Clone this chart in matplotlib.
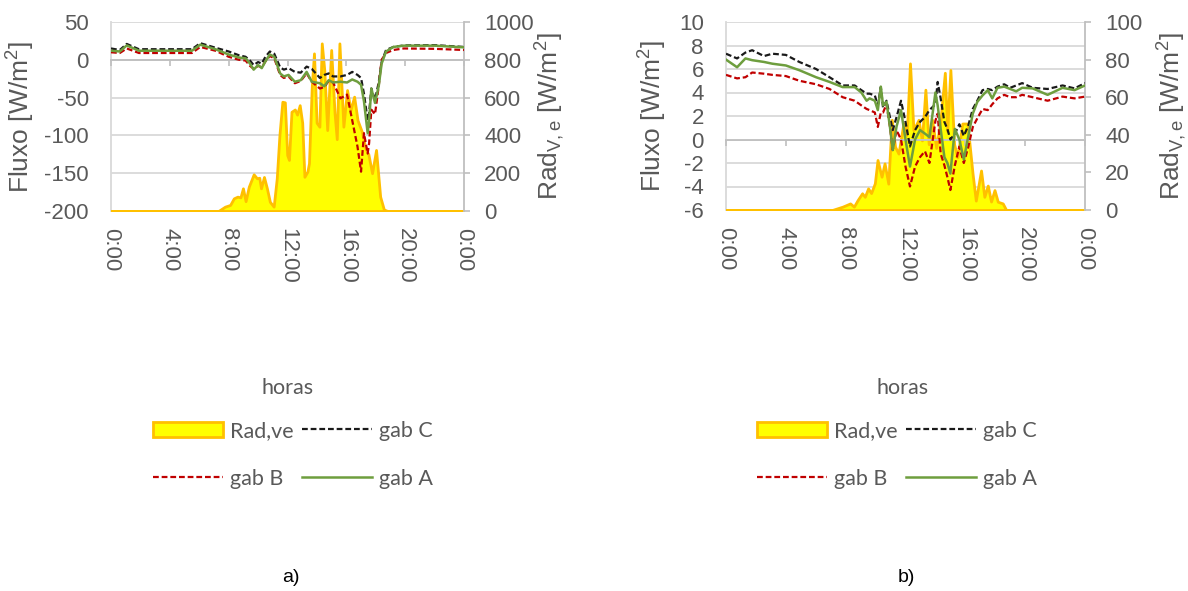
import matplotlib
matplotlib.use("Agg")
import matplotlib.pyplot as plt

plt.rcParams["font.family"] = ["Liberation Sans", "DejaVu Sans"]
plt.rcParams["axes.unicode_minus"] = False
plt.rcParams["mathtext.fontset"] = "custom"
plt.rcParams["mathtext.rm"] = "Liberation Sans"
plt.rcParams["mathtext.it"] = "Liberation Sans:italic"

# ---------------- data ----------------
hour_ticks = [0, 4, 8, 12, 16, 20, 24]
hour_labels = ["0:00", "4:00", "8:00", "12:00", "16:00", "20:00", "0:00"]

# panel a) heat flux [W/m2] of the three cabinets
t_a = [0, 0.6, 1.07, 1.9, 3.0, 4.0, 5.5, 6.07, 7.1, 8.0,
       8.7, 9.15, 9.45, 9.7, 10.0, 10.25, 10.5, 10.8, 11.1, 11.5,
       11.75, 12.07, 12.5, 12.9, 13.3, 13.65, 14.2, 14.5, 14.8, 15.1,
       15.6, 16.05, 16.4, 16.76, 17.0, 17.2, 17.45, 17.55, 17.7, 17.95,
       18.2, 18.4, 18.7, 19.2, 19.9, 22.0, 24.0]
gab_a_a = [12, 11, 19, 12, 12, 12, 12, 20, 14, 7,
           3, 2, -5, -13, -7, -11, -2, 7, 4, -18,
           -22, -20, -29, -27, -16, -29, -31, -35, -27, -30,
           -29, -30, -26, -29, -33, -55, -97, -80, -38, -57,
           -35, -5, 11, 17, 18.7, 18.7, 16.5]
gab_b_a = [10, 9, 15, 9, 9, 9, 9, 17, 12, 4,
           0, -1, -8, -12, -8, -10, -2, 5, 2, -20,
           -24, -22, -31, -28, -18, -29, -38, -36, -28, -30,
           -51, -46, -80, -115, -148, -97, -124, -110, -66, -72,
           -35, 0, 9, 13, 15, 14.5, 13]
gab_c_a = [15, 13, 21, 14, 14, 14, 14, 22, 16, 11,
           6, 4, -1, -7, -3, -5, 4, 11, 8, -10,
           -13, -11, -16, -17, -9, -12, -24, -20, -18, -22,
           -22, -20, -16, -20, -24, -45, -80, -70, -38, -53,
           -30, -3, 13, 17, 19, 19.4, 17]

# panel a) solar radiation on the facade [W/m2]
t_rad_a = [0, 7.3, 7.75, 8.1, 8.35, 8.6, 8.8, 8.97, 9.15, 9.37,
           9.7, 9.92, 10.08, 10.2, 10.4, 10.6, 10.8, 11.06, 11.27, 11.45,
           11.65, 11.82, 11.98, 12.1, 12.27, 12.5, 12.65, 12.83, 13.0, 13.15,
           13.35, 13.46, 13.65, 13.8, 13.98, 14.17, 14.33, 14.5, 14.7, 14.97,
           15.2, 15.35, 15.53, 15.8, 16.05, 16.28, 16.53, 16.76, 17.05, 17.3,
           17.5, 17.75, 18.02, 18.3, 18.55, 18.8, 24]
rad_a = [0, 0, 23, 32, 67, 76, 72, 120, 52, 129,
         194, 173, 176, 120, 180, 120, 49, 23, 173, 400,
         578, 575, 296, 270, 525, 537, 510, 560, 467, 181,
         208, 253, 658, 834, 467, 446, 887, 746, 428, 852,
         518, 380, 887, 446, 640, 534, 605, 481, 420, 330,
         300, 200, 323, 76, 8, 0, 0]

# panel b) heat flux [W/m2] of the three cabinets
t_b = [0, 0.74, 1.3, 1.75, 2.54, 3.1, 4.0, 4.9, 6.02, 6.92,
       7.8, 8.6, 9.05, 9.4, 9.6, 9.95, 10.15, 10.35, 10.5, 10.73,
       10.96, 11.15, 11.4, 11.7, 12.0, 12.3, 12.64, 12.97, 13.3, 13.6,
       14.0, 14.15, 14.35, 14.6, 14.8, 15.0, 15.3, 15.6, 15.9, 16.2,
       16.5, 16.8, 17.15, 17.5, 17.8, 18.15, 18.6, 19.0, 19.4, 19.8,
       20.5, 21.5, 22.5, 23.3, 24.0]
gab_a_b = [6.8, 6.15, 6.9, 6.75, 6.6, 6.45, 6.3, 5.9, 5.3, 4.9,
           4.46, 4.46, 4.0, 3.3, 3.5, 3.3, 2.5, 4.5, 2.9, 3.2,
           1.07, -0.9, 1.1, 2.5, 0.0, -2.3, 0.0, 0.8, 0.5, 0.2,
           4.0, 2.9, 0.9, -1.5, -2.0, -2.9, 0.9, 0.0, -1.7, 0.3,
           2.2, 3.2, 3.75, 4.2, 3.5, 4.4, 4.5, 4.3, 4.1, 4.4,
           4.35, 3.8, 4.4, 4.2, 4.6]
gab_b_b = [5.5, 5.2, 5.3, 5.7, 5.6, 5.5, 5.4, 5.0, 4.7, 4.3,
           3.6, 3.3, 2.9, 2.6, 2.5, 2.3, 1.07, 2.3, 2.3, 3.0,
           1.07, -0.9, 0.8, 0.0, -2.3, -4.0, -2.3, -1.5, -1.0, -2.0,
           1.6, 2.2, -1.2, -2.2, -3.2, -4.3, -2.2, -0.6, -2.0, -0.6,
           1.07, 1.8, 2.6, 2.5, 3.0, 3.5, 3.8, 3.6, 3.6, 3.8,
           3.6, 3.3, 3.65, 3.5, 3.65]
gab_c_b = [7.3, 6.9, 7.4, 7.6, 7.1, 7.3, 7.2, 6.6, 6.0, 5.3,
           4.6, 4.6, 4.2, 3.9, 3.9, 3.75, 2.9, 4.46, 2.7, 3.3,
           1.9, 0.8, 1.9, 3.3, 1.5, -0.6, 0.8, 1.5, 1.9, 2.5,
           3.0, 4.9, 3.5, 1.5, 0.9, 0.0, 0.5, 1.3, 0.3, 1.2,
           2.6, 3.3, 4.2, 4.3, 4.2, 4.5, 4.7, 4.4, 4.6, 4.8,
           4.4, 4.3, 4.6, 4.35, 4.8]

# panel b) solar radiation on the facade [W/m2]
t_rad_b = [0, 7.1, 7.8, 8.3, 8.55, 8.8, 9.1, 9.28, 9.5, 9.7,
           9.95, 10.13, 10.4, 10.6, 10.85, 11.08, 11.3, 11.53, 11.86, 12.08,
           12.3, 12.53, 12.87, 13.1, 13.33, 13.55, 13.78, 14.05, 14.34, 14.63,
           14.79, 15.0, 15.25, 15.47, 15.8, 16.14, 16.48, 16.7, 17.05, 17.27,
           17.5, 17.72, 17.95, 18.17, 18.5, 18.73, 24]
rad_b = [0, 0, 1.8, 3.5, 1.8, 5.3, 8.9, 7, 11.5, 9,
         14.2, 26.6, 17.7, 24.8, 14, 48, 33.7, 30, 46, 40,
         78, 42.5, 48, 37, 64, 35, 48, 33, 48, 73,
         42, 74.5, 35, 28, 46, 46, 19.5, 5, 21, 7,
         13, 4.5, 10.6, 4.4, 3.5, 0, 0]

# ---------------- style ----------------
W, H = 1188, 591
GRID = "#D9D9D9"
AXIS = "#BFBFBF"
TXT = "#595959"
C_RAD_FACE, C_RAD_EDGE = "#FFFF00", "#FFC000"
C_A, C_B, C_C = "#6E9E3E", "#C00000", "#1A1A1A"
TICK_FS, LABEL_FS = 16, 19
LEG_FONT = ["Lato", "DejaVu Sans"]
LEG_FS = 15.5

fig = plt.figure(figsize=(W / 100, H / 100), dpi=100)


def px_rect(x0, y0, x1, y1):
    return [x0 / W, 1 - y1 / H, (x1 - x0) / W, (y1 - y0) / H]


def panel(rect, t, ga, gb, gc, t_rad, rad, flim, fticks, rlim, rticks,
          ylab_left_x, ylab_right_x):
    # background layer with horizontal gridlines
    gax = fig.add_axes(rect, zorder=0)
    gax.set_xlim(0, 24)
    gax.set_ylim(*flim)
    gax.set_yticks(fticks)
    gax.set_xticks([])
    gax.tick_params(left=False, labelleft=False)
    gax.grid(axis="y", color=GRID, lw=1.3)
    for s in ("top", "right", "bottom"):
        gax.spines[s].set_visible(False)
    gax.spines["left"].set_color(GRID)
    gax.spines["left"].set_linewidth(1.3)

    # radiation (secondary scale)
    rax = fig.add_axes(rect, zorder=1)
    rax.patch.set_visible(False)
    area = rax.fill_between(t_rad, 0, rad, facecolor=C_RAD_FACE,
                            edgecolor=C_RAD_EDGE, linewidth=2.0,
                            label="Rad,ve")
    rax.set_xlim(0, 24)
    rax.set_ylim(*rlim)
    rax.set_yticks(rticks)
    rax.set_xticks([])
    rax.yaxis.tick_right()
    rax.yaxis.set_label_position("right")
    rax.tick_params(axis="y", direction="out", length=4.5, width=1.2,
                    color=AXIS, labelsize=TICK_FS, labelcolor=TXT, pad=10)
    for s in ("top", "left", "bottom"):
        rax.spines[s].set_visible(False)
    rax.spines["right"].set_color(AXIS)
    rax.spines["right"].set_linewidth(1.3)
    rax.set_ylabel(r"Rad$_{\mathrm{V,e}}$ [W/m$^{2}$]", fontsize=LABEL_FS,
                   color=TXT)
    rax.yaxis.set_label_coords(ylab_right_x, 0.5)

    # heat flux lines
    fax = fig.add_axes(rect, zorder=2)
    fax.patch.set_visible(False)
    lc, = fax.plot(t, gc, color=C_C, lw=1.6, ls=(0, (2.6, 1.3)), label="gab C")
    lb, = fax.plot(t, gb, color=C_B, lw=1.6, ls=(0, (2.6, 1.3)), label="gab B")
    la, = fax.plot(t, ga, color=C_A, lw=1.8, label="gab A")
    fax.set_xlim(0, 24)
    fax.set_ylim(*flim)
    fax.set_yticks(fticks)
    fax.set_xticks(hour_ticks)
    fax.set_xticklabels(hour_labels, rotation=-90, va="top", ha="center")
    fax.tick_params(axis="x", length=0, labelsize=TICK_FS, labelcolor=TXT,
                    pad=12)
    fax.tick_params(axis="y", length=0, labelsize=TICK_FS, labelcolor=TXT,
                    pad=16)
    for s in fax.spines.values():
        s.set_visible(False)
    fax.set_ylabel("Fluxo [W/m$^{2}$]", fontsize=LABEL_FS, color=TXT)
    fax.yaxis.set_label_coords(ylab_left_x, 0.5)

    # horizontal axis line crossing at zero flux
    zero_frac = (0 - flim[0]) / (flim[1] - flim[0])
    sec = fax.secondary_xaxis(zero_frac)
    sec.set_xticks(hour_ticks)
    sec.xaxis.set_ticks_position("bottom")
    sec.tick_params(axis="x", direction="out", length=4, width=1.2,
                    color=AXIS, labelbottom=False, labeltop=False)
    for s in sec.spines.values():
        s.set_color(AXIS)
        s.set_linewidth(1.3)
    return area, lb, lc, la


def legend_block(handles, x_left, x_title):
    fig.text(x_title / W, 1 - 388 / H, "horas", ha="center", va="center",
             fontsize=LEG_FS, color=TXT, family=LEG_FONT)
    em = LEG_FS * 100 / 72
    fig.legend(handles=handles, labels=[h.get_label() for h in handles],
               ncol=2, loc="center left",
               bbox_to_anchor=(x_left / W, 1 - 455 / H),
               frameon=False, borderpad=0, borderaxespad=0,
               handlelength=70 / em, handleheight=0.7,
               handletextpad=7 / em, columnspacing=8 / em,
               labelspacing=1.3,
               prop={"family": LEG_FONT, "size": LEG_FS},
               labelcolor=TXT)


rect_a = px_rect(111, 22, 464, 211)
rect_b = px_rect(726, 22, 1085, 210)

ha = panel(rect_a, t_a, gab_a_a, gab_b_a, gab_c_a, t_rad_a, rad_a,
           (-200, 50), list(range(-200, 51, 50)),
           (0, 1000), list(range(0, 1001, 200)), -0.21, 1.197)
hb = panel(rect_b, t_b, gab_a_b, gab_b_b, gab_c_b, t_rad_b, rad_b,
           (-6, 10), list(range(-6, 11, 2)),
           (0, 100), list(range(0, 101, 20)), -0.16, 1.195)

legend_block(list(ha), 153, 287.5)
legend_block(list(hb), 757, 903)

fig.text(291 / W, 1 - 578 / H, "a)", ha="center", va="center", fontsize=14,
         color="#000000")
fig.text(906 / W, 1 - 578 / H, "b)", ha="center", va="center", fontsize=14,
         color="#000000")

fig.savefig("out.png", dpi=100)
